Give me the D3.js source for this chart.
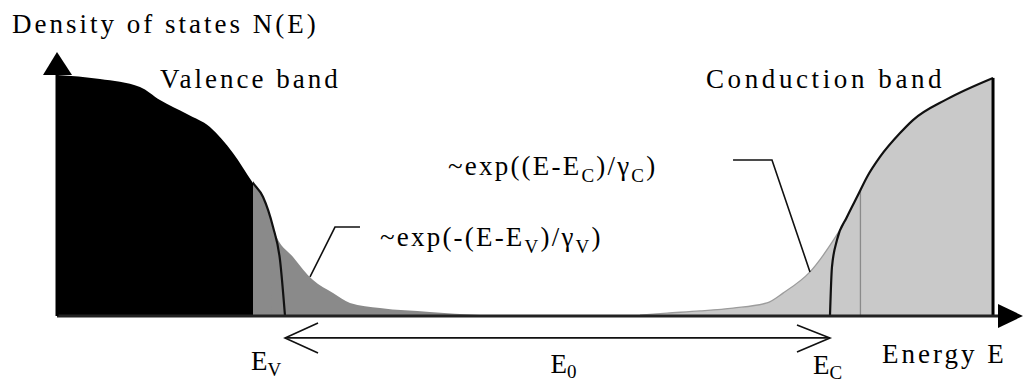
<!DOCTYPE html>
<html>
<head>
<meta charset="utf-8">
<script src="https://cdn.jsdelivr.net/npm/d3@7"></script>
<style>
  html, body { margin: 0; padding: 0; background: #fff; }
  svg { display: block; }
</style>
</head>
<body>
<svg id="chart" width="1024" height="383"></svg>
<script>
// Energy in arbitrary units (0..10), density of states normalised to the valence top.
const valenceBand = [
  [0.000, 1.000], [0.456, 0.983], [0.880, 0.950], [1.092, 0.896],
  [1.378, 0.838], [1.622, 0.784], [1.866, 0.676], [2.078, 0.552],
  [2.185, 0.494], [2.291, 0.369], [2.365, 0.232], [2.418, 0.000]
];
const valenceTail = [
  [2.270, 0.400], [2.312, 0.344], [2.503, 0.245], [2.715, 0.149], [2.927, 0.095],
  [3.107, 0.054], [3.425, 0.033], [3.955, 0.017], [4.486, 0.004]
];
const conductionBand = [
  [8.197, 0.000], [8.218, 0.203], [8.271, 0.315], [8.377, 0.411],
  [8.494, 0.502], [8.590, 0.577], [8.727, 0.660], [8.940, 0.759],
  [9.077, 0.813], [9.438, 0.900], [9.926, 0.988]
];
const conductionTail = [
  [6.182, 0.004], [6.469, 0.012], [6.819, 0.021], [7.169, 0.033],
  [7.529, 0.054], [7.699, 0.095], [7.985, 0.183], [8.303, 0.357],
  [8.367, 0.398]
];
const Ev = 2.418;             // valence band edge
const Ec = 8.197;             // conduction band edge
const valenceShadeStart = 2.078;   // black band fill gives way to the tail shading
const conductionMarker = 8.52;     // thin divider inside the conduction band
const gapArrowLevel = -0.091;      // height of the E0 double arrow

// callout leader lines: [energy, density]
const valenceLeader = [[2.683, 0.162], [2.948, 0.369], [3.213, 0.369]];
const conductionLeader = [[7.985, 0.183], [7.582, 0.647], [7.169, 0.647]];

const svg = d3.select("#chart");
const x = d3.scaleLinear().domain([0, 10]).range([57, 1000]);
const y = d3.scaleLinear().domain([0, 1]).range([316, 75]);

const area = d3.area().x(d => x(d[0])).y0(y(0)).y1(d => y(d[1])).curve(d3.curveMonotoneX);
const line = d3.line().x(d => x(d[0])).y(d => y(d[1])).curve(d3.curveMonotoneX);
const straight = d3.line().x(d => x(d[0])).y(d => y(d[1]));

// density on the band curve at a given energy (linear between points)
function densityAt(pts, e) {
  for (let i = 1; i < pts.length; i++) {
    if (e <= pts[i][0]) {
      const t = (e - pts[i - 1][0]) / (pts[i][0] - pts[i - 1][0]);
      return pts[i - 1][1] + t * (pts[i][1] - pts[i - 1][1]);
    }
  }
  return pts[pts.length - 1][1];
}

// clip regions left / right of the valence shading boundary
const defs = svg.append("defs");
defs.append("clipPath").attr("id", "left-of-edge").append("rect")
  .attr("x", 0).attr("y", 0).attr("width", x(valenceShadeStart)).attr("height", 383);
defs.append("clipPath").attr("id", "right-of-edge").append("rect")
  .attr("x", x(valenceShadeStart)).attr("y", 0).attr("width", 1024).attr("height", 383);

// ---- valence band: tail shading, black band, band-edge curve ----
svg.append("path").attr("d", area(valenceBand)).attr("fill", "#8a8a8a")
  .attr("clip-path", "url(#right-of-edge)");
svg.append("path").attr("d", area(valenceTail)).attr("fill", "#8a8a8a");
svg.append("path").attr("d", area(valenceBand)).attr("fill", "#000")
  .attr("clip-path", "url(#left-of-edge)");
svg.append("path").attr("d", line(valenceBand))
  .attr("fill", "none").attr("stroke", "#111").attr("stroke-width", 2.2)
  .attr("clip-path", "url(#right-of-edge)");

// ---- conduction band ----
svg.append("path").attr("d", area(conductionTail)).attr("fill", "#c9c9c9");
svg.append("path").attr("d", area(conductionBand)).attr("fill", "#c9c9c9");
svg.append("path").attr("d", line(conductionTail))
  .attr("fill", "none").attr("stroke", "#9c9c9c").attr("stroke-width", 1.3);

svg.append("line")
  .attr("x1", x(conductionMarker)).attr("x2", x(conductionMarker))
  .attr("y1", y(0)).attr("y2", y(densityAt(conductionBand, conductionMarker)))
  .attr("stroke", "#8a8a8a").attr("stroke-width", 1.3);

svg.append("path").attr("d", line(conductionBand))
  .attr("fill", "none").attr("stroke", "#111").attr("stroke-width", 2.2);

const cbEnd = conductionBand[conductionBand.length - 1];
svg.append("line")
  .attr("x1", x(cbEnd[0])).attr("x2", x(cbEnd[0]))
  .attr("y1", y(0)).attr("y2", y(cbEnd[1]))
  .attr("stroke", "#000").attr("stroke-width", 3);

// ---- axes with arrow heads ----
const x0 = x(0), yb = y(0);
svg.append("line").attr("x1", x0).attr("x2", x(10)).attr("y1", yb).attr("y2", yb)
  .attr("stroke", "#222").attr("stroke-width", 3);
svg.append("line").attr("x1", x0).attr("x2", x0).attr("y1", yb).attr("y2", y(1))
  .attr("stroke", "#000").attr("stroke-width", 3);
svg.append("path")
  .attr("d", `M${x0},${y(1) - 23} L${x0 - 14},${y(1)} L${x0 + 15},${y(1)} Z`)
  .attr("fill", "#000");
svg.append("path")
  .attr("d", `M${x(10) + 23},${yb} L${x(10) - 2},${yb - 12} L${x(10) - 2},${yb + 12} Z`)
  .attr("fill", "#000");

// ---- callout leaders ----
svg.append("path").attr("d", straight(valenceLeader))
  .attr("fill", "none").attr("stroke", "#111").attr("stroke-width", 1.6);
svg.append("path").attr("d", straight(conductionLeader))
  .attr("fill", "none").attr("stroke", "#111").attr("stroke-width", 1.6);

// ---- E0 double arrow between the band edges ----
const ya = y(gapArrowLevel);
const xl = x(Ev), xr = x(Ec);
svg.append("line").attr("x1", xl).attr("x2", xr).attr("y1", ya).attr("y2", ya)
  .attr("stroke", "#111").attr("stroke-width", 1.8);
svg.append("path")
  .attr("d", `M${xl + 33},${ya - 15} L${xl},${ya} L${xl + 33},${ya + 15}`)
  .attr("fill", "none").attr("stroke", "#111").attr("stroke-width", 1.6);
svg.append("path")
  .attr("d", `M${xr - 33},${ya - 13} L${xr},${ya} L${xr - 33},${ya + 14}`)
  .attr("fill", "none").attr("stroke", "#111").attr("stroke-width", 1.6);

// ---- text ----
// Each run of text is one <text>; wide tracking is applied through
// per-glyph x positions measured from the laid-out string.
function run(px, py, str, size, spacing) {
  const t = svg.append("text")
    .attr("x", 0).attr("y", py)
    .style("font-family", "'Liberation Serif'")
    .attr("font-size", size)
    .text(str);
  const node = t.node();
  const n = str.length;
  let width = size * 0.5 * n;
  try {
    const xs = [];
    for (let i = 0; i < n; i++) xs.push(px + node.getStartPositionOfChar(i).x + i * spacing);
    t.attr("x", xs.map(v => v.toFixed(2)).join(" "));
    width = node.getComputedTextLength() + n * spacing;
  } catch (e) {
    t.attr("x", px);
  }
  return px + width;
}

function label(px, py, parts, opts = {}) {
  const size = opts.size || 27;
  const spacing = opts.spacing != null ? opts.spacing : 3;
  const drop = opts.drop || 7;
  let cursor = px;
  parts.forEach(p => {
    if (Array.isArray(p)) cursor = run(cursor, py + drop, p[0], 19, spacing);
    else cursor = run(cursor, py, p, size, spacing);
  });
}

label(12, 33, ["Density of states N(E)"]);
label(160, 88, ["Valence band"]);
label(706, 88, ["Conduction band"], { spacing: 3.6 });
label(448, 175, ["~exp((E-E", ["C"], ")/\u03b3", ["C"], ")"], { spacing: 2.2 });
label(380, 246, ["~exp(-(E-E", ["V"], ")/\u03b3", ["V"], ")"], { spacing: 2.2 });
label(xl - 34, 370, ["E", ["V"]], { spacing: 0, drop: 6 });
label((xl + xr) / 2 - 7, 373, ["E", ["0"]], { spacing: 0, drop: 5 });
label(xr - 17, 374, ["E", ["C"]], { spacing: 0, drop: 5 });
label(882, 363, ["Energy E"], { spacing: 3 });
</script>
</body>
</html>
